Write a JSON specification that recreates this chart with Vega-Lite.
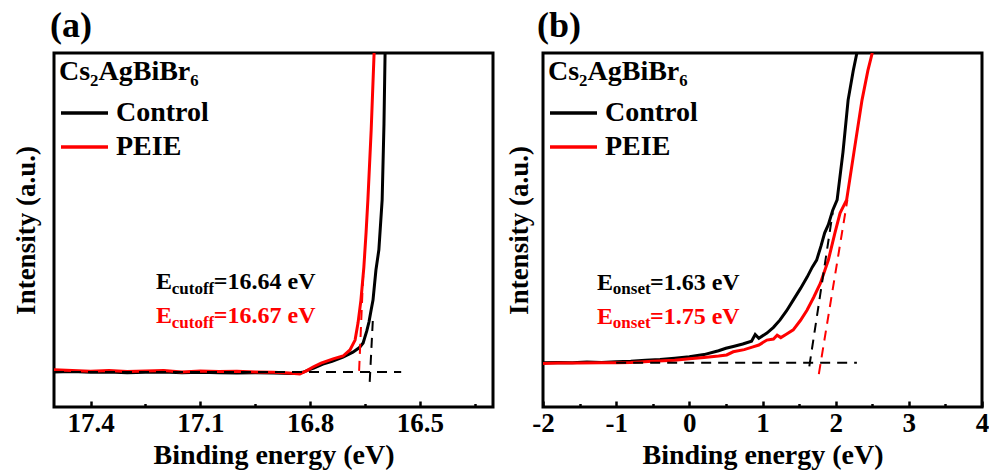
{
  "$schema": "https://vega.github.io/schema/vega-lite/v6.json",
  "padding": {"left": 10, "top": 6, "right": 4, "bottom": 0},
  "spacing": 8,
  "config": {
    "font": "Liberation Serif",
    "view": {"stroke": "#000000", "strokeWidth": 3},
    "axis": {"grid": false, "domain": false, "labelFont": "Liberation Serif", "labelFontSize": 27, "labelFontWeight": "bold", "labelColor": "#000000", "titleFont": "Liberation Serif", "titleFontSize": 28, "titleFontWeight": "bold", "titleColor": "#000000", "tickColor": "#000000", "tickWidth": 2.5, "labelFlush": false},
    "legend": {"orient": "top-left", "offset": 5, "padding": 0, "symbolType": "stroke", "symbolSize": 2209, "symbolStrokeWidth": 3.5, "clipHeight": 34, "rowPadding": 0, "titlePadding": 10, "labelOffset": 6, "titleFont": "Liberation Serif", "titleFontSize": 28, "titleFontWeight": "bold", "titleColor": "#000000", "labelFont": "Liberation Serif", "labelFontSize": 28, "labelFontWeight": "bold", "labelColor": "#000000", "titleLimit": 400, "labelLimit": 400},
    "title": {"font": "Liberation Serif", "fontSize": 36, "fontWeight": "bold", "color": "#000000", "anchor": "start", "frame": "group", "offset": 8}
  },
  "datasets": {
    "a_curves": [
      {"E": 17.50, "I": 9.9, "series": "Control"},
      {"E": 17.45, "I": 10.0, "series": "Control"},
      {"E": 17.40, "I": 9.8, "series": "Control"},
      {"E": 17.35, "I": 9.9, "series": "Control"},
      {"E": 17.30, "I": 9.7, "series": "Control"},
      {"E": 17.25, "I": 9.8, "series": "Control"},
      {"E": 17.20, "I": 9.9, "series": "Control"},
      {"E": 17.15, "I": 9.7, "series": "Control"},
      {"E": 17.10, "I": 9.8, "series": "Control"},
      {"E": 17.05, "I": 9.7, "series": "Control"},
      {"E": 17.00, "I": 9.6, "series": "Control"},
      {"E": 16.95, "I": 9.7, "series": "Control"},
      {"E": 16.90, "I": 9.6, "series": "Control"},
      {"E": 16.85, "I": 9.45, "series": "Control"},
      {"E": 16.82, "I": 9.8, "series": "Control"},
      {"E": 16.80, "I": 10.6, "series": "Control"},
      {"E": 16.79, "I": 11.0, "series": "Control"},
      {"E": 16.765, "I": 12.1, "series": "Control"},
      {"E": 16.74, "I": 12.9, "series": "Control"},
      {"E": 16.71, "I": 14.1, "series": "Control"},
      {"E": 16.683, "I": 15.5, "series": "Control"},
      {"E": 16.665, "I": 16.8, "series": "Control"},
      {"E": 16.655, "I": 18.1, "series": "Control"},
      {"E": 16.645, "I": 21.5, "series": "Control"},
      {"E": 16.639, "I": 24.0, "series": "Control"},
      {"E": 16.633, "I": 27.5, "series": "Control"},
      {"E": 16.628, "I": 30.2, "series": "Control"},
      {"E": 16.620, "I": 38.7, "series": "Control"},
      {"E": 16.612, "I": 44.4, "series": "Control"},
      {"E": 16.603, "I": 58.5, "series": "Control"},
      {"E": 16.598, "I": 80.0, "series": "Control"},
      {"E": 16.595, "I": 100.0, "series": "Control"},
      {"E": 17.50, "I": 10.5, "series": "PEIE"},
      {"E": 17.45, "I": 10.3, "series": "PEIE"},
      {"E": 17.40, "I": 10.1, "series": "PEIE"},
      {"E": 17.35, "I": 10.3, "series": "PEIE"},
      {"E": 17.30, "I": 10.0, "series": "PEIE"},
      {"E": 17.25, "I": 10.2, "series": "PEIE"},
      {"E": 17.20, "I": 10.3, "series": "PEIE"},
      {"E": 17.15, "I": 9.9, "series": "PEIE"},
      {"E": 17.10, "I": 10.2, "series": "PEIE"},
      {"E": 17.05, "I": 10.0, "series": "PEIE"},
      {"E": 17.00, "I": 10.1, "series": "PEIE"},
      {"E": 16.95, "I": 9.9, "series": "PEIE"},
      {"E": 16.90, "I": 9.8, "series": "PEIE"},
      {"E": 16.86, "I": 9.6, "series": "PEIE"},
      {"E": 16.828, "I": 9.3, "series": "PEIE"},
      {"E": 16.81, "I": 10.2, "series": "PEIE"},
      {"E": 16.792, "I": 11.3, "series": "PEIE"},
      {"E": 16.77, "I": 12.4, "series": "PEIE"},
      {"E": 16.737, "I": 13.6, "series": "PEIE"},
      {"E": 16.71, "I": 14.4, "series": "PEIE"},
      {"E": 16.691, "I": 16.1, "series": "PEIE"},
      {"E": 16.677, "I": 18.9, "series": "PEIE"},
      {"E": 16.669, "I": 23.7, "series": "PEIE"},
      {"E": 16.661, "I": 30.2, "series": "PEIE"},
      {"E": 16.653, "I": 39.5, "series": "PEIE"},
      {"E": 16.647, "I": 49.2, "series": "PEIE"},
      {"E": 16.642, "I": 58.5, "series": "PEIE"},
      {"E": 16.633, "I": 78.2, "series": "PEIE"},
      {"E": 16.625, "I": 100.0, "series": "PEIE"}
    ],
    "a_dash": [
      {"E": 17.50, "I": 9.9, "series": "Control", "seg": "base"},
      {"E": 16.551, "I": 9.9, "series": "Control", "seg": "base"},
      {"E": 16.637, "I": 7.1, "series": "Control", "seg": "tangent"},
      {"E": 16.628, "I": 25.5, "series": "Control", "seg": "tangent"},
      {"E": 16.666, "I": 10.2, "series": "PEIE", "seg": "tangent"},
      {"E": 16.655, "I": 37.0, "series": "PEIE", "seg": "tangent"}
    ],
    "a_text": [
      {"E": 17.221, "I": 33.3, "label": "E", "series": "Control"},
      {"E": 17.063, "I": 33.3, "label": "=16.64 eV", "series": "Control"},
      {"E": 17.221, "I": 23.7, "label": "E", "series": "PEIE"},
      {"E": 17.063, "I": 23.7, "label": "=16.67 eV", "series": "PEIE"}
    ],
    "a_sub": [
      {"E": 17.178, "I": 32.0, "label": "cutoff", "series": "Control"},
      {"E": 17.178, "I": 22.4, "label": "cutoff", "series": "PEIE"}
    ],
    "b_curves": [
      {"E": -2.0, "I": 12.5, "series": "Control"},
      {"E": -1.8, "I": 12.6, "series": "Control"},
      {"E": -1.6, "I": 12.5, "series": "Control"},
      {"E": -1.4, "I": 12.7, "series": "Control"},
      {"E": -1.2, "I": 12.6, "series": "Control"},
      {"E": -1.0, "I": 12.8, "series": "Control"},
      {"E": -0.8, "I": 12.9, "series": "Control"},
      {"E": -0.6, "I": 13.2, "series": "Control"},
      {"E": -0.4, "I": 13.4, "series": "Control"},
      {"E": -0.2, "I": 13.8, "series": "Control"},
      {"E": 0.0, "I": 14.2, "series": "Control"},
      {"E": 0.2, "I": 14.8, "series": "Control"},
      {"E": 0.4, "I": 15.9, "series": "Control"},
      {"E": 0.5, "I": 16.6, "series": "Control"},
      {"E": 0.6, "I": 17.1, "series": "Control"},
      {"E": 0.73, "I": 17.8, "series": "Control"},
      {"E": 0.85, "I": 18.6, "series": "Control"},
      {"E": 0.9, "I": 20.5, "series": "Control"},
      {"E": 0.95, "I": 19.4, "series": "Control"},
      {"E": 1.06, "I": 20.9, "series": "Control"},
      {"E": 1.15, "I": 22.5, "series": "Control"},
      {"E": 1.24, "I": 24.6, "series": "Control"},
      {"E": 1.33, "I": 27.2, "series": "Control"},
      {"E": 1.42, "I": 30.2, "series": "Control"},
      {"E": 1.52, "I": 33.5, "series": "Control"},
      {"E": 1.61, "I": 36.7, "series": "Control"},
      {"E": 1.68, "I": 39.5, "series": "Control"},
      {"E": 1.74, "I": 41.5, "series": "Control"},
      {"E": 1.80, "I": 45.5, "series": "Control"},
      {"E": 1.85, "I": 49.2, "series": "Control"},
      {"E": 1.90, "I": 51.5, "series": "Control"},
      {"E": 1.96, "I": 55.6, "series": "Control"},
      {"E": 2.02, "I": 58.5, "series": "Control"},
      {"E": 2.10, "I": 72.0, "series": "Control"},
      {"E": 2.17, "I": 86.7, "series": "Control"},
      {"E": 2.24, "I": 95.0, "series": "Control"},
      {"E": 2.29, "I": 100.0, "series": "Control"},
      {"E": -2.0, "I": 12.3, "series": "PEIE"},
      {"E": -1.8, "I": 12.4, "series": "PEIE"},
      {"E": -1.5, "I": 12.4, "series": "PEIE"},
      {"E": -1.2, "I": 12.5, "series": "PEIE"},
      {"E": -1.0, "I": 12.5, "series": "PEIE"},
      {"E": -0.8, "I": 12.6, "series": "PEIE"},
      {"E": -0.5, "I": 12.9, "series": "PEIE"},
      {"E": -0.2, "I": 13.2, "series": "PEIE"},
      {"E": 0.0, "I": 13.6, "series": "PEIE"},
      {"E": 0.2, "I": 14.0, "series": "PEIE"},
      {"E": 0.4, "I": 14.4, "series": "PEIE"},
      {"E": 0.51, "I": 14.7, "series": "PEIE"},
      {"E": 0.6, "I": 15.6, "series": "PEIE"},
      {"E": 0.75, "I": 16.2, "series": "PEIE"},
      {"E": 0.87, "I": 17.0, "series": "PEIE"},
      {"E": 0.95, "I": 17.5, "series": "PEIE"},
      {"E": 1.06, "I": 18.9, "series": "PEIE"},
      {"E": 1.15, "I": 19.2, "series": "PEIE"},
      {"E": 1.20, "I": 20.3, "series": "PEIE"},
      {"E": 1.25, "I": 19.6, "series": "PEIE"},
      {"E": 1.32, "I": 20.5, "series": "PEIE"},
      {"E": 1.42, "I": 21.8, "series": "PEIE"},
      {"E": 1.52, "I": 24.5, "series": "PEIE"},
      {"E": 1.61, "I": 27.4, "series": "PEIE"},
      {"E": 1.70, "I": 31.0, "series": "PEIE"},
      {"E": 1.79, "I": 34.9, "series": "PEIE"},
      {"E": 1.85, "I": 38.5, "series": "PEIE"},
      {"E": 1.90, "I": 41.5, "series": "PEIE"},
      {"E": 1.99, "I": 49.2, "series": "PEIE"},
      {"E": 2.06, "I": 54.8, "series": "PEIE"},
      {"E": 2.15, "I": 58.5, "series": "PEIE"},
      {"E": 2.25, "I": 72.0, "series": "PEIE"},
      {"E": 2.36, "I": 86.7, "series": "PEIE"},
      {"E": 2.44, "I": 95.0, "series": "PEIE"},
      {"E": 2.50, "I": 100.0, "series": "PEIE"}
    ],
    "b_dash": [
      {"E": -1.0, "I": 12.5, "series": "Control", "seg": "base"},
      {"E": 2.29, "I": 12.5, "series": "Control", "seg": "base"},
      {"E": 1.64, "I": 11.5, "series": "Control", "seg": "tangent"},
      {"E": 1.96, "I": 55.0, "series": "Control", "seg": "tangent"},
      {"E": 1.77, "I": 9.3, "series": "PEIE", "seg": "tangent"},
      {"E": 2.16, "I": 58.5, "series": "PEIE", "seg": "tangent"}
    ],
    "b_text": [
      {"E": -1.262, "I": 33.05, "label": "E", "series": "Control"},
      {"E": -0.538, "I": 33.05, "label": "=1.63 eV", "series": "Control"},
      {"E": -1.262, "I": 23.4, "label": "E", "series": "PEIE"},
      {"E": -0.538, "I": 23.4, "label": "=1.75 eV", "series": "PEIE"}
    ],
    "b_sub": [
      {"E": -1.045, "I": 31.8, "label": "onset", "series": "Control"},
      {"E": -1.045, "I": 22.2, "label": "onset", "series": "PEIE"}
    ]
  },
  "resolve": {"legend": {"color": "independent"}},
  "hconcat": [
    {
      "width": 439,
      "height": 354,
      "title": {"text": "(a)", "dx": -4},
      "resolve": {"axis": {"x": "independent"}},
      "layer": [
        {
          "data": {"name": "a_curves"},
          "mark": {"type": "line", "strokeWidth": 3, "clip": true},
          "encoding": {
            "x": {"field": "E", "type": "quantitative", "scale": {"domain": [16.3, 17.5], "reverse": true, "nice": false, "zero": false},
                  "axis": {"orient": "bottom", "values": [17.4, 17.1, 16.8, 16.5], "format": ".1f", "tickSize": -6, "labelPadding": 9, "title": "Binding energy (eV)", "titlePadding": 5}},
            "y": {"field": "I", "type": "quantitative", "scale": {"domain": [0, 100], "nice": false},
                  "axis": {"title": "Intensity (a.u.)", "domain": true, "domainOpacity": 0, "ticks": false, "labels": false, "titlePadding": 14, "titleFontSize": 27}},
            "color": {"field": "series", "type": "nominal", "scale": {"domain": ["Control", "PEIE"], "range": ["#000000", "#ff0000"]},
                      "legend": {"title": "Cs₂AgBiBr₆"}}
          }
        },
        {
          "data": {"name": "a_dash"},
          "mark": {"type": "line", "strokeWidth": 2, "strokeDash": [10, 7], "clip": true},
          "encoding": {
            "x": {"field": "E", "type": "quantitative", "axis": {"orient": "bottom", "values": [17.25, 16.95, 16.65, 16.35], "labels": false, "title": null, "tickSize": -3.5}},
            "y": {"field": "I", "type": "quantitative"},
            "color": {"field": "series", "type": "nominal", "legend": null},
            "detail": {"field": "seg"}
          }
        },
        {
          "data": {"name": "a_text"},
          "mark": {"type": "text", "align": "left", "baseline": "alphabetic", "fontSize": 24, "fontWeight": "bold", "font": "Liberation Serif"},
          "encoding": {
            "x": {"field": "E", "type": "quantitative", "axis": null},
            "y": {"field": "I", "type": "quantitative"},
            "text": {"field": "label"},
            "color": {"field": "series", "type": "nominal", "legend": null}
          }
        },
        {
          "data": {"name": "a_sub"},
          "mark": {"type": "text", "align": "left", "baseline": "alphabetic", "fontSize": 17, "fontWeight": "bold", "font": "Liberation Serif"},
          "encoding": {
            "x": {"field": "E", "type": "quantitative", "axis": null},
            "y": {"field": "I", "type": "quantitative"},
            "text": {"field": "label"},
            "color": {"field": "series", "type": "nominal", "legend": null}
          }
        }
      ]
    },
    {
      "width": 439,
      "height": 354,
      "title": {"text": "(b)", "dx": -6},
      "resolve": {"axis": {"x": "independent"}},
      "layer": [
        {
          "data": {"name": "b_curves"},
          "mark": {"type": "line", "strokeWidth": 3, "clip": true},
          "encoding": {
            "x": {"field": "E", "type": "quantitative", "scale": {"domain": [-2, 4], "nice": false},
                  "axis": {"orient": "bottom", "values": [-2, -1, 0, 1, 2, 3, 4], "labelExpr": "'' + datum.value", "tickSize": -6, "labelPadding": 9, "title": "Binding energy (eV)", "titlePadding": 5}},
            "y": {"field": "I", "type": "quantitative", "scale": {"domain": [0, 100], "nice": false},
                  "axis": {"title": "Intensity (a.u.)", "domain": true, "domainOpacity": 0, "ticks": false, "labels": false, "titlePadding": 10, "titleFontSize": 27}},
            "color": {"field": "series", "type": "nominal", "scale": {"domain": ["Control", "PEIE"], "range": ["#000000", "#ff0000"]},
                      "legend": {"title": "Cs₂AgBiBr₆"}}
          }
        },
        {
          "data": {"name": "b_dash"},
          "mark": {"type": "line", "strokeWidth": 2, "strokeDash": [10, 7], "clip": true},
          "encoding": {
            "x": {"field": "E", "type": "quantitative", "axis": {"orient": "bottom", "values": [-1.5, -0.5, 0.5, 1.5, 2.5, 3.5], "labels": false, "title": null, "tickSize": -3.5}},
            "y": {"field": "I", "type": "quantitative"},
            "color": {"field": "series", "type": "nominal", "legend": null},
            "detail": {"field": "seg"}
          }
        },
        {
          "data": {"name": "b_text"},
          "mark": {"type": "text", "align": "left", "baseline": "alphabetic", "fontSize": 24, "fontWeight": "bold", "font": "Liberation Serif"},
          "encoding": {
            "x": {"field": "E", "type": "quantitative", "axis": null},
            "y": {"field": "I", "type": "quantitative"},
            "text": {"field": "label"},
            "color": {"field": "series", "type": "nominal", "legend": null}
          }
        },
        {
          "data": {"name": "b_sub"},
          "mark": {"type": "text", "align": "left", "baseline": "alphabetic", "fontSize": 17, "fontWeight": "bold", "font": "Liberation Serif"},
          "encoding": {
            "x": {"field": "E", "type": "quantitative", "axis": null},
            "y": {"field": "I", "type": "quantitative"},
            "text": {"field": "label"},
            "color": {"field": "series", "type": "nominal", "legend": null}
          }
        }
      ]
    }
  ]
}
